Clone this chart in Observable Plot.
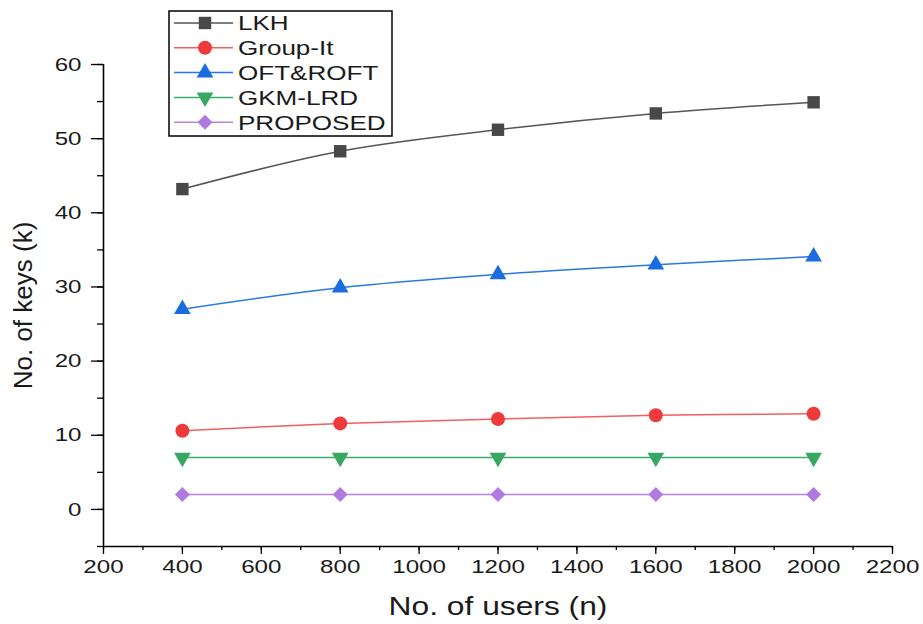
<!DOCTYPE html>
<html><head><meta charset="utf-8">
<script src="https://cdn.jsdelivr.net/npm/d3@7"></script>
<script src="https://cdn.jsdelivr.net/npm/@observablehq/plot@0.6"></script>
<style>
body{margin:0;background:#fff}
#wrap{position:relative;width:923px;height:624px}
</style></head><body><div id="wrap"></div>
<script>
// ---- data ----
const users = [400, 800, 1200, 1600, 2000];
const lkh = [43.2, 48.3, 51.2, 53.4, 54.9];
const groupIt = [10.6, 11.6, 12.2, 12.7, 12.9];
const oftRoft = [27.0, 29.9, 31.7, 33.0, 34.1];
const gkmLrd = [7, 7, 7, 7, 7];
const proposed = [2, 2, 2, 2, 2];
const seriesNames = ["LKH", "Group-It", "OFT&ROFT", "GKM-LRD", "PROPOSED"];
const seriesValues = [lkh, groupIt, oftRoft, gkmLrd, proposed];
const xTicks = [200, 400, 600, 800, 1000, 1200, 1400, 1600, 1800, 2000, 2200];
const yTicks = [0, 10, 20, 30, 40, 50, 60];

// ---- styles ----
const lineColors = ["#555555", "#f25f5f", "#2a78e4", "#3dab68", "#b384e3"];
const dotColors = ["#484848", "#ee3a3a", "#1a6ddf", "#37a862", "#b07ae0"];
const symbols = ["square", "circle", "triangle", "triangle", "square"];
const rotations = [0, 0, 0, 180, 45];
const radii = [7, 7, 6.2, 6.2, 6];

const table = seriesNames.flatMap((name, k) =>
  users.map((u, i) => ({users: u, keys: seriesValues[k][i], series: name, k})));

const xMinor = d3.range(200, 2201, 100);
const yMinor = d3.range(-5, 61, 5);
const fmt = d => String(d);

const marks = [
  Plot.axisY(yMinor, {tickSize: 6, text: null, label: null, stroke: "#000", strokeWidth: 1.3}),
  Plot.axisY(yTicks, {tickSize: 12, tickPadding: 10, tickFormat: fmt, stroke: "#000", strokeWidth: 1.3, fill: "#1a1a1a", label: null}),
  Plot.axisX(xMinor, {tickSize: 4, text: null, label: null, stroke: "#000", strokeWidth: 1.3}),
  Plot.axisX(xTicks, {tickSize: 8, tickPadding: 5, tickFormat: fmt, stroke: "#000", strokeWidth: 1.3, fill: "#1a1a1a", label: null}),
  Plot.ruleX([200], {stroke: "#000", strokeWidth: 1.6}),
  Plot.ruleY([-5], {stroke: "#000", strokeWidth: 1.6}),
  Plot.text(["No. of users (n)"], {frameAnchor: "bottom", lineAnchor: "middle", textAnchor: "middle", dy: 60, fontSize: 25, fill: "#1a1a1a"}),
  Plot.text(["No. of keys (k)"], {frameAnchor: "left", textAnchor: "middle", lineAnchor: "middle", dx: -80, rotate: -90, fontSize: 26, fill: "#1a1a1a"})
];
seriesNames.forEach((name, k) => {
  const d = table.filter(r => r.k === k);
  marks.push(Plot.line(d, {x: "users", y: "keys", stroke: lineColors[k], strokeWidth: 1.5, curve: "catmull-rom"}));
  marks.push(Plot.dot(d, {x: "users", y: "keys", fill: dotColors[k], symbol: symbols[k], rotate: rotations[k], r: radii[k]}));
});

const chart = Plot.plot({
  width: 923,
  height: 624,
  marginLeft: 103,
  marginRight: 31,
  marginTop: 64,
  marginBottom: 78,
  style: {fontFamily: "'Liberation Sans', Arial, sans-serif", fontSize: "19px", background: "#fff", color: "#1a1a1a"},
  x: {domain: [200, 2200], axis: null},
  y: {domain: [-5, 60], axis: null},
  marks
});
document.getElementById("wrap").appendChild(chart);

// ---- legend ----
const svg = d3.select(chart);
const lg = svg.append("g").attr("font-family", "'Liberation Sans', Arial, sans-serif").attr("text-anchor", "start");
lg.append("rect").attr("x", 169).attr("y", 11).attr("width", 223).attr("height", 125)
  .attr("fill", "#fff").attr("stroke", "#000").attr("stroke-width", 1.5);
const d3Sym = {square: d3.symbolSquare, circle: d3.symbolCircle, triangle: d3.symbolTriangle};
seriesNames.forEach((name, k) => {
  const cy = 23 + k * 24.8;
  const row = lg.append("g");
  row.append("line").attr("x1", 174).attr("x2", 233).attr("y1", cy).attr("y2", cy)
    .attr("stroke", lineColors[k]).attr("stroke-width", 1.5);
  const r = radii[k];
  row.append("path").attr("d", d3.symbol(d3Sym[symbols[k]], Math.PI * r * r)())
    .attr("transform", `translate(205,${cy}) rotate(${rotations[k]})`).attr("fill", dotColors[k]);
  row.append("text").attr("x", 238).attr("y", cy).attr("dy", "0.36em").attr("text-anchor", "start")
    .attr("font-size", 20.5).attr("fill", "#1a1a1a").text(name);
});

// horizontal stretch of non-rotated text to match the reference's wide lettering
svg.selectAll("text").each(function() {
  const tr = this.getAttribute("transform") || "";
  const ptr = this.parentNode.getAttribute && (this.parentNode.getAttribute("transform") || "");
  if (tr.includes("rotate") || ptr.includes("rotate")) return;
  const len = this.getComputedTextLength();
  if (len > 0) {
    this.setAttribute("textLength", (len * 1.27).toFixed(1));
    this.setAttribute("lengthAdjust", "spacingAndGlyphs");
  }
});
</script></body></html>
